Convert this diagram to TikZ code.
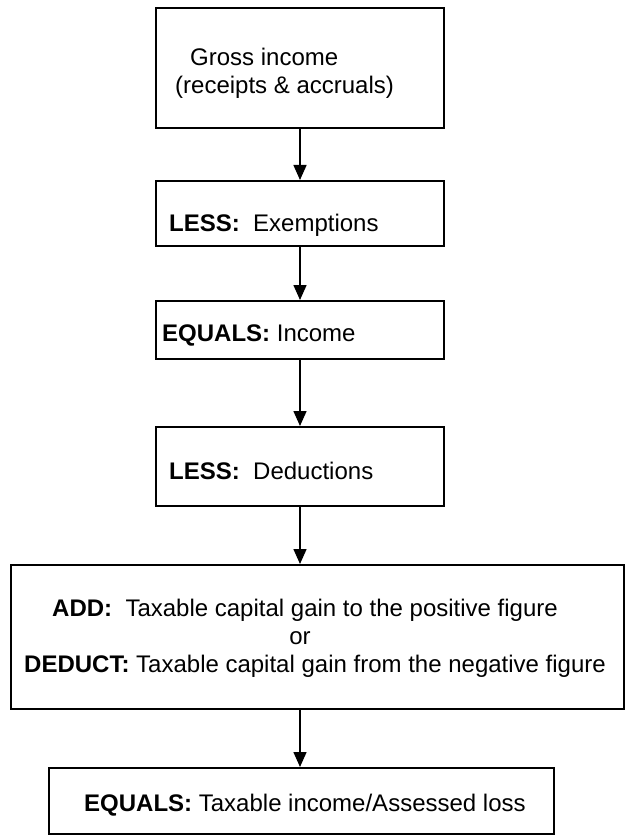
\documentclass[tikz,border=0pt]{standalone}
\usepackage{fontspec}
\setmainfont{Liberation Sans}
\usetikzlibrary{arrows.meta}

\begin{document}
\begin{tikzpicture}[x=1pt,y=-1pt,
    box/.style={draw,line width=2pt,inner sep=0pt,anchor=north west},
    txt/.style={anchor=base west,inner sep=0pt,font=\fontsize{24}{28}\selectfont},
    flow/.style={line width=1.5pt,-{Triangle[width=13pt,length=15pt]}}]

\useasboundingbox (0,0) rectangle (625,837);

% boxes
\node[box,minimum width=288pt,minimum height=120pt] (gross) at (155,7) {};
\node[box,minimum width=288pt,minimum height=65pt] (exempt) at (155,180) {};
\node[box,minimum width=288pt,minimum height=58pt] (income) at (155,300) {};
\node[box,minimum width=288pt,minimum height=79pt] (deduct) at (155,426) {};
\node[box,minimum width=613pt,minimum height=144pt] (capgain) at (10,564) {};
\node[box,minimum width=505pt,minimum height=66pt] (taxable) at (48,767) {};

% texts
\node[txt] (grossA) at (190,66) {Gross income};
\node[txt] (grossB) at (175,94) {(receipts \& accruals)};
\node[txt] (exemptT) at (169,231) {\textbf{LESS:}\ \ Exemptions};
\node[txt] (incomeT) at (162,341) {\textbf{EQUALS:} Income};
\node[txt] (deductT) at (169,479) {\textbf{LESS:}\ \ Deductions};
\node[txt] (addT) at (52,616) {\textbf{ADD:}\ \ Taxable capital gain to the positive figure};
\node[txt,anchor=base] (orT) at (300,644) {or};
\node[txt] (subT) at (24,672) {\textbf{DEDUCT:} Taxable capital gain from the negative figure};
\node[txt] (taxableT) at (84,811) {\textbf{EQUALS:} Taxable income/Assessed loss};

% arrows
\draw[flow] (gross) -- (exempt);
\draw[flow] (exempt) -- (income);
\draw[flow] (income) -- (deduct);
\draw[flow] (deduct.south) -- (deduct.south |- capgain.north);
\draw[flow] (deduct.south |- capgain.south) -- (deduct.south |- taxable.north);

\end{tikzpicture}
\end{document}
